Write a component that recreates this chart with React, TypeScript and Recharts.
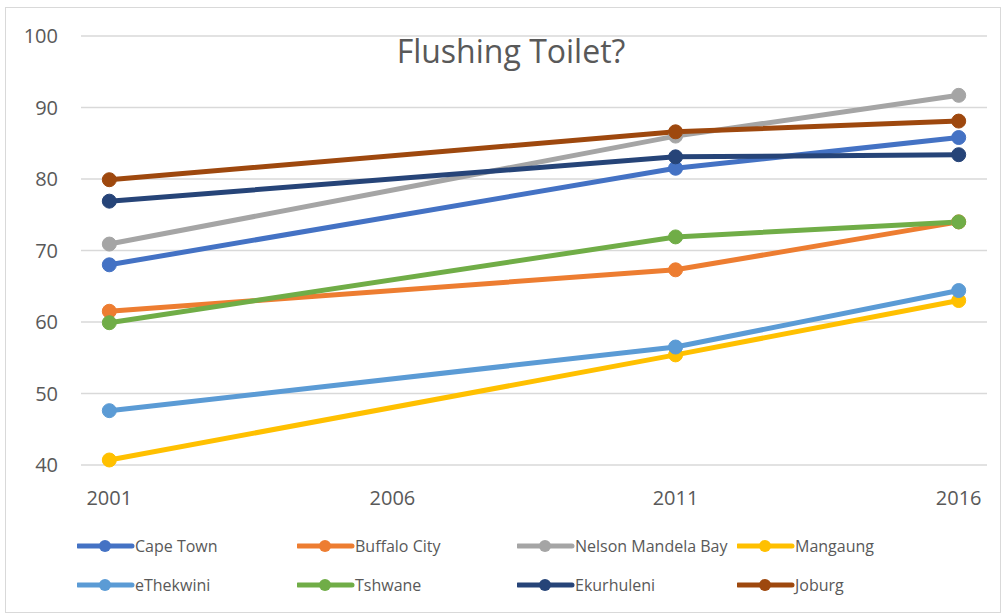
import { CartesianGrid, Legend, Line, LineChart, XAxis, YAxis } from "recharts";

// survey years and share of households with a flushing toilet (%)
const YEARS = [2001, 2011, 2016];
const X_TICKS = [2001, 2006, 2011, 2016];
const Y_TICKS = [40, 50, 60, 70, 80, 90, 100];

const CAPE_TOWN = [68.0, 81.5, 85.8];
const BUFFALO_CITY = [61.5, 67.3, 74.0];
const NELSON_MANDELA_BAY = [70.9, 86.0, 91.7];
const MANGAUNG = [40.7, 55.4, 63.0];
const ETHEKWINI = [47.6, 56.5, 64.4];
const TSHWANE = [59.9, 71.9, 74.0];
const EKURHULENI = [76.9, 83.1, 83.4];
const JOBURG = [79.9, 86.6, 88.1];

const SERIES = [
  { key: "Cape Town", values: CAPE_TOWN, color: "#4472C4" },
  { key: "Buffalo City", values: BUFFALO_CITY, color: "#ED7D31" },
  { key: "Nelson Mandela Bay", values: NELSON_MANDELA_BAY, color: "#A5A5A5" },
  { key: "Mangaung", values: MANGAUNG, color: "#FFC000" },
  { key: "eThekwini", values: ETHEKWINI, color: "#5B9BD5" },
  { key: "Tshwane", values: TSHWANE, color: "#70AD47" },
  { key: "Ekurhuleni", values: EKURHULENI, color: "#264478" },
  { key: "Joburg", values: JOBURG, color: "#9E480E" },
];

const data = YEARS.map((year, i) => {
  const row: Record<string, number> = { year };
  SERIES.forEach((s) => {
    row[s.key] = s.values[i];
  });
  return row;
});

const FONT = "'Open Sans', 'Liberation Sans', sans-serif";
const TEXT = "#595959";

// legend keeps the series order (recharts would sort it by name)
function LegendGrid({ payload }: { payload?: any[] }) {
  const items = (payload ?? [])
    .slice()
    .sort(
      (a, b) =>
        SERIES.findIndex((s) => s.key === a.value) - SERIES.findIndex((s) => s.key === b.value)
    );
  return (
    <div
      style={{
        display: "grid",
        gridTemplateColumns: "220px 220px 220px 220px",
        rowGap: 18,
        fontFamily: FONT,
        fontSize: 16,
        color: TEXT,
      }}
    >
      {items.map((entry) => (
        <div key={entry.value} style={{ display: "flex", alignItems: "center", height: 21 }}>
          <svg width={58} height={16} style={{ flex: "none" }}>
            <line x1={1} y1={8} x2={55} y2={8} stroke={entry.color} strokeWidth={5} strokeLinecap="round" />
            <circle cx={28} cy={8} r={6} fill={entry.color} />
          </svg>
          <span style={{ whiteSpace: "nowrap" }}>{entry.value}</span>
        </div>
      ))}
    </div>
  );
}

export default function App() {
  return (
    <div style={{ position: "absolute", left: 0, top: 0, width: 1006, height: 616, background: "#fff" }}>
      <div
        style={{
          position: "absolute",
          left: 5,
          top: 7,
          width: 996,
          height: 606,
          boxSizing: "border-box",
          border: "1px solid #d9d9d9",
        }}
      />
      <div style={{ position: "absolute", left: 0, top: 0 }}>
        <LineChart
          width={1006}
          height={616}
          data={data}
          margin={{ top: 36, right: 19, bottom: 101, left: 6 }}
        >
          <CartesianGrid stroke="#d9d9d9" strokeWidth={1.5} vertical={false} />
          <XAxis
            dataKey="year"
            type="number"
            domain={[2000.5, 2016.5]}
            ticks={X_TICKS}
            axisLine={false}
            tickLine={false}
            tickSize={0}
            tickMargin={26}
            height={50}
            tick={{ fill: TEXT, fontSize: 20, fontFamily: FONT }}
          />
          <YAxis
            type="number"
            domain={[40, 100]}
            ticks={Y_TICKS}
            axisLine={false}
            tickLine={false}
            tickSize={0}
            tickMargin={23}
            width={75}
            tick={{ fill: TEXT, fontSize: 20, fontFamily: FONT }}
          />
          <text
            x={511}
            y={63}
            textAnchor="middle"
            fill={TEXT}
            fontSize={32}
            fontFamily={FONT}
          >
            Flushing Toilet?
          </text>
          {SERIES.map((s) => (
            <Line
              key={s.key}
              dataKey={s.key}
              name={s.key}
              stroke={s.color}
              strokeWidth={5}
              dot={{ r: 7, fill: s.color, stroke: s.color, strokeWidth: 1 }}
              activeDot={false}
              isAnimationActive={false}
            />
          ))}
          <Legend
            layout="horizontal"
            verticalAlign="middle"
            align="center"
            content={(props: any) => <LegendGrid payload={props.payload} />}
            wrapperStyle={{ top: 535, left: 77, width: 900, height: 70 }}
          />
        </LineChart>
      </div>
    </div>
  );
}
